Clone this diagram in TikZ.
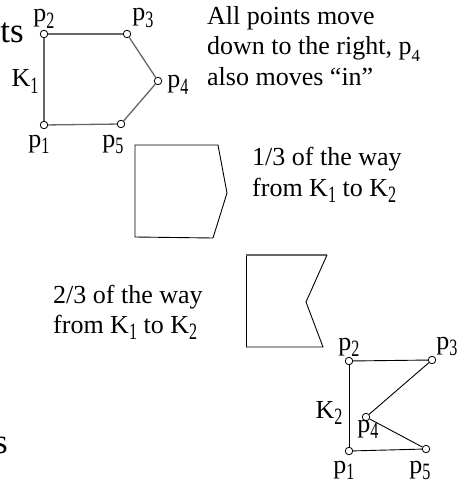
\documentclass[tikz,border=0pt]{standalone}
\usepackage{fontspec}
\setmainfont{Liberation Serif}
\newcommand{\sbs}[1]{\raisebox{-0.25em}{\scalebox{0.62}[0.9]{#1}}}
\newcommand{\sbt}[1]{\raisebox{-0.26em}{\fontsize{17}{17}\selectfont #1}}
\begin{document}
\begin{tikzpicture}[x=1pt,y=-1pt,
  vtx/.style={circle,draw=black,fill=white,inner sep=0pt,minimum size=7.5pt,line width=0.8pt},
  lbl/.style={font=\fontsize{26}{30}\selectfont,inner sep=0pt,anchor=base},
  txt/.style={font=\fontsize{26}{30}\selectfont,inner sep=0pt,anchor=base west},
  big/.style={font=\fontsize{35}{40}\selectfont,inner sep=0pt,anchor=base east},
  grayedge/.style={draw=black!60,line width=1.3pt},
  blackedge/.style={draw=black,line width=0.9pt}]
\useasboundingbox (0,0) rectangle (459,484);
\clip (0,0) rectangle (459,484);

% partial words at the left edge
\node[big] (ts) at (24,43) {ts};
\node[big] (s) at (8,453) {s};

% K1
\node[vtx] (a1) at (44,125) {};
\node[vtx] (a2) at (44,34) {};
\node[vtx] (a3) at (127,34) {};
\node[vtx] (a4) at (158,81) {};
\node[vtx] (a5) at (121,124) {};
\draw[grayedge] (a1) -- (a2);
\draw[grayedge] (a2) -- (a3);
\draw[grayedge] (a3) -- (a4);
\draw[grayedge] (a4) -- (a5);
\draw[grayedge] (a5) -- (a1);
\node[lbl] (la2) at (44,22) {p\sbs{2}};
\node[lbl] (la3) at (143,21) {p\sbs{3}};
\node[lbl] (la4) at (178,88) {p\sbs{4}};
\node[lbl] (lk1) at (25,87) {K\sbs{1}};
\node[lbl] (la1) at (39,147) {p\sbs{1}};
\node[lbl] (la5) at (113,147) {p\sbs{5}};

% explanatory text
\node[txt] (t1) at (207,25) {All points move};
\node[txt] (t2) at (207,55) {down to the right, p\sbt{4}};
\node[txt] (t3) at (207,86) {also moves “in”};

% 1/3 polygon
\coordinate (b1) at (135,237);
\coordinate (b2) at (135,145);
\coordinate (b3) at (218,145);
\coordinate (b4) at (227,193);
\coordinate (b5) at (213,238);
\draw[blackedge] (b1) -- (b2) -- (b3) -- (b4) -- (b5) -- cycle;
\node[txt] (t4) at (252,165) {1/3 of the way};
\node[txt] (t5) at (252,196) {from K\sbs{1} to K\sbs{2}};

% 2/3 polygon
\coordinate (c1) at (246,347);
\coordinate (c2) at (246,255);
\coordinate (c3) at (327,255);
\coordinate (c4) at (306,302);
\coordinate (c5) at (323,347);
\draw[blackedge] (c1) -- (c2);
\draw[grayedge] (c2) -- (c3);
\draw[blackedge] (c3) -- (c4) -- (c5) -- (c1);
\node[txt] (t6) at (53,303) {2/3 of the way};
\node[txt] (t7) at (53,333) {from K\sbs{1} to K\sbs{2}};

% K2
\node[vtx] (d1) at (349,451) {};
\node[vtx] (d2) at (349,361) {};
\node[vtx] (d3) at (432,360) {};
\node[vtx] (d4) at (366,417) {};
\node[vtx] (d5) at (426,449) {};
\draw[blackedge] (d1) -- (d2);
\draw[blackedge] (d2) -- (d3);
\draw[blackedge] (d3) -- (d4);
\draw[blackedge] (d4) -- (d5);
\draw[blackedge] (d5) -- (d1);
\node[lbl] (ld2) at (349,350) {p\sbs{2}};
\node[lbl] (ld3) at (447,349) {p\sbs{3}};
\node[lbl] (lk2) at (329,418) {K\sbs{2}};
\node[lbl] (ld4) at (368,432) {p\sbs{4}};
\node[lbl] (ld1) at (344,473) {p\sbs{1}};
\node[lbl] (ld5) at (420,473) {p\sbs{5}};
\end{tikzpicture}
\end{document}
